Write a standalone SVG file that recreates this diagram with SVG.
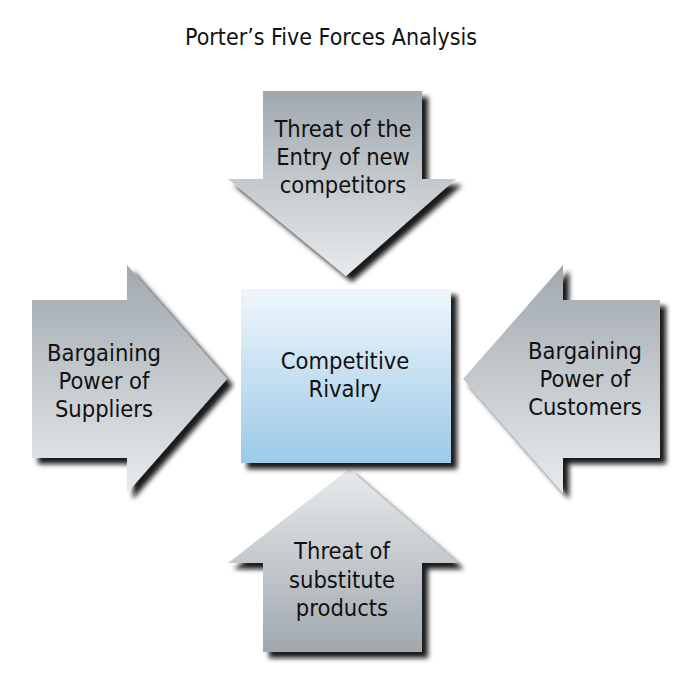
<svg xmlns="http://www.w3.org/2000/svg" width="700" height="700" viewBox="0 0 700 700">
  <defs>
    <linearGradient id="gDown" x1="0" y1="0" x2="0" y2="1">
      <stop offset="0" stop-color="#a0a8ae"/>
      <stop offset="1" stop-color="#e8ebed"/>
    </linearGradient>
    <linearGradient id="gUp" x1="0" y1="0" x2="0" y2="1">
      <stop offset="0" stop-color="#e8ebed"/>
      <stop offset="1" stop-color="#a0a8ae"/>
    </linearGradient>
    <linearGradient id="gBox" x1="0" y1="0" x2="0" y2="1">
      <stop offset="0" stop-color="#eff6fb"/>
      <stop offset="1" stop-color="#9ccae8"/>
    </linearGradient>
    <filter id="shadow" x="-10%" y="-10%" width="130%" height="130%">
      <feDropShadow dx="6" dy="6" stdDeviation="2.5" flood-color="#111" flood-opacity="0.95"/>
    </filter>
  </defs>
  <style>
    text { font-family: "DejaVu Sans Condensed", "DejaVu Sans", sans-serif; fill: #111; text-anchor: middle; }
    .lbl { font-size: 23.5px; }
    .title { font-size: 23px; }
  </style>
  <rect width="700" height="700" fill="#ffffff"/>
  <g id="title">
    <text class="title" x="331" y="45">Porter’s Five Forces Analysis</text>
  </g>
  <g id="connectors"></g>
  <g id="node-entrants">
    <path d="M263,91 H422 V179 H456 L346,276 L228,179 H263 Z" fill="url(#gDown)" filter="url(#shadow)"/>
    <text class="lbl" x="343" y="137">Threat of the</text>
    <text class="lbl" x="343" y="165">Entry of new</text>
    <text class="lbl" x="343" y="193">competitors</text>
  </g>
  <g id="node-suppliers">
    <path d="M32,300 H127 V265 L227,379 L127,493 V458 H32 Z" fill="url(#gDown)" filter="url(#shadow)"/>
    <text class="lbl" x="104" y="361">Bargaining</text>
    <text class="lbl" x="104" y="389">Power of</text>
    <text class="lbl" x="104" y="417">Suppliers</text>
  </g>
  <g id="node-customers">
    <path d="M660,300 H563 V265 L463,379 L563,493 V458 H660 Z" fill="url(#gDown)" filter="url(#shadow)"/>
    <text class="lbl" x="585" y="359">Bargaining</text>
    <text class="lbl" x="585" y="387">Power of</text>
    <text class="lbl" x="585" y="415">Customers</text>
  </g>
  <g id="node-substitutes">
    <path d="M263,652 H422 V563 H458 L349,469 L228,563 H263 Z" fill="url(#gUp)" filter="url(#shadow)"/>
    <text class="lbl" x="342" y="559">Threat of</text>
    <text class="lbl" x="342" y="588">substitute</text>
    <text class="lbl" x="342" y="616">products</text>
  </g>
  <g id="node-rivalry">
    <rect x="241" y="289" width="210" height="174" fill="url(#gBox)" filter="url(#shadow)"/>
    <text class="lbl" x="345" y="369">Competitive</text>
    <text class="lbl" x="345" y="397">Rivalry</text>
  </g>
</svg>
